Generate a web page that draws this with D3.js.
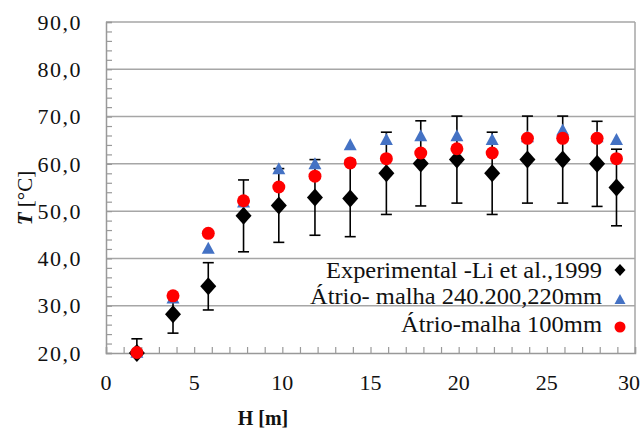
<!DOCTYPE html>
<html>
<head>
<meta charset="utf-8">
<script src="https://cdn.jsdelivr.net/npm/d3@7"></script>
<style>
  body { margin: 0; background: #fff; }
  text { font-family: "Liberation Serif", "Times New Roman", serif; fill: #111; }
</style>
</head>
<body>
<svg width="642" height="443"></svg>
<script>
// H positions [m] and temperatures [°C]
var hPos     = [1.75, 3.8, 5.8, 7.8, 9.8, 11.85, 13.85, 15.9, 17.85, 19.9, 21.9, 23.9, 25.9, 27.85, 28.95];
var expT     = [20.0, 28.2, 34.1, 49.0, 51.2, 52.9, 52.7, 58.0, 60.1, 60.9, 58.0, 60.9, 60.9, 60.0, 55.0];
var expErr   = [3.0, 4.0, 5.0, 7.6, 7.8, 8.0, 8.1, 8.7, 9.0, 9.2, 8.7, 9.2, 9.2, 9.0, 8.1];
var coarseT  = [20.0, 31.5, 42.0, 51.8, 58.8, 59.9, 63.9, 65.0, 65.8, 65.8, 65.0, 65.6, 67.0, 65.6, 65.0];
var fineT    = [20.1, 32.1, 45.3, 52.2, 55.1, 57.4, 60.2, 61.1, 62.3, 63.2, 62.3, 65.4, 65.4, 65.4, 61.1];

var xTicks = [0, 5, 10, 15, 20, 25, 30];
var yTicks = [20, 30, 40, 50, 60, 70, 80, 90];
var legendLabels = ["Experimental -Li et al.,1999", "Átrio- malha 240.200,220mm", "Átrio-malha 100mm"];

var svg = d3.select("svg");
var pL = 106, pR = 635, pT = 22, pB = 353;

var x = d3.scaleLinear().domain([0, 30]).range([pL, pR]);
var y = d3.scaleLinear().domain([20, 90]).range([pB, pT]);

var fmt = function(v) { return d3.format(".1f")(v).replace(".", ","); };

// gridlines
svg.append("g").selectAll("line")
  .data(yTicks.slice(1))
  .enter().append("line")
  .attr("x1", pL).attr("x2", pR)
  .attr("y1", function(d) { return y(d); })
  .attr("y2", function(d) { return y(d); })
  .attr("stroke", "#a6a6a6")
  .attr("stroke-width", 1.5);

// right border
svg.append("line")
  .attr("x1", pR).attr("x2", pR).attr("y1", pT).attr("y2", pB)
  .attr("stroke", "#a6a6a6").attr("stroke-width", 1.5);

// y axis, major + minor ticks pointing inward
var yAxis = d3.axisRight(y).tickValues(d3.range(20, 90.1, 2)).tickSize(6).tickFormat("");
var gy = svg.append("g").attr("transform", "translate(" + pL + ",0)").call(yAxis);
gy.select(".domain").attr("stroke", "#999").attr("stroke-width", 1.5);
gy.selectAll(".tick line").attr("stroke", "#999").attr("stroke-width", 1.2);

svg.append("g").selectAll("text")
  .data(yTicks)
  .enter().append("text")
  .attr("x", 82)
  .attr("y", function(d) { return y(d); })
  .attr("dy", "0.35em")
  .attr("text-anchor", "end")
  .style("font-size", "22px")
  .style("letter-spacing", "1.5px")
  .text(fmt);

// x axis, ticks pointing up
var xAxis = d3.axisTop(x).tickValues(d3.range(0, 30.1, 1)).tickSize(6).tickFormat("");
var gx = svg.append("g").attr("transform", "translate(0," + pB + ")").call(xAxis);
gx.select(".domain").attr("stroke", "#999").attr("stroke-width", 1.5);
gx.selectAll(".tick line").attr("stroke", "#999").attr("stroke-width", 1.2);

svg.append("g").selectAll("text")
  .data(xTicks)
  .enter().append("text")
  .attr("x", function(d) { return Math.min(x(d), 629); })
  .attr("y", 382)
  .attr("dy", "0.35em")
  .attr("text-anchor", "middle")
  .style("font-size", "22px")
  .text(function(d) { return d; });

// axis titles
svg.append("text")
  .attr("x", 263).attr("y", 418).attr("dy", "0.35em")
  .attr("text-anchor", "middle")
  .style("font-size", "20px").style("font-weight", "bold")
  .text("H [m]");

var yt = svg.append("text")
  .attr("transform", "translate(25,198) rotate(-90)")
  .attr("dy", "0.35em")
  .attr("text-anchor", "middle")
  .style("font-size", "21px");
yt.append("tspan").style("font-weight", "bold").style("font-style", "italic").text("T");
yt.append("tspan").text(" [°C]");

var idx = d3.range(hPos.length);

// experimental series with error bars
var eb = svg.append("g").attr("stroke", "#000").attr("stroke-width", 1.6);
idx.forEach(function(i) {
  var cx = x(hPos[i]);
  var y0 = Math.min(y(expT[i] - expErr[i]), pB);
  var y1 = y(expT[i] + expErr[i]);
  eb.append("line").attr("x1", cx).attr("x2", cx).attr("y1", y0).attr("y2", y1);
  eb.append("line").attr("x1", cx - 5.5).attr("x2", cx + 5.5).attr("y1", y1).attr("y2", y1);
  if (y(expT[i] - expErr[i]) < pB)
    eb.append("line").attr("x1", cx - 5.5).attr("x2", cx + 5.5).attr("y1", y0).attr("y2", y0);
});

function diamond(w, h) {
  return "M0," + (-h) + "L" + w + ",0L0," + h + "L" + (-w) + ",0Z";
}
function triangle(w, h) {
  return "M0," + (-h * 0.6) + "L" + w + "," + (h * 0.4) + "L" + (-w) + "," + (h * 0.4) + "Z";
}

svg.append("g").selectAll("path")
  .data(idx)
  .enter().append("path")
  .attr("d", diamond(8, 9))
  .attr("transform", function(i) { return "translate(" + x(hPos[i]) + "," + y(expT[i]) + ")"; })
  .attr("fill", "#000");

svg.append("g").selectAll("path")
  .data(idx)
  .enter().append("path")
  .attr("d", triangle(6.5, 12))
  .attr("transform", function(i) { return "translate(" + x(hPos[i]) + "," + y(coarseT[i]) + ")"; })
  .attr("fill", "#4472c4");

svg.append("g").selectAll("circle")
  .data(idx)
  .enter().append("circle")
  .attr("cx", function(i) { return x(hPos[i]); })
  .attr("cy", function(i) { return y(fineT[i]); })
  .attr("r", 6.5)
  .attr("fill", "#ff0000");

// legend
var legY = [270, 296, 324];
var legW = [276, 292, 201];
var lg = svg.append("g");
legendLabels.forEach(function(t, i) {
  lg.append("text")
    .attr("x", 602).attr("y", legY[i]).attr("dy", "0.35em")
    .attr("text-anchor", "end")
    .attr("textLength", legW[i])
    .attr("lengthAdjust", "spacingAndGlyphs")
    .style("font-size", "23px")
    .text(t);
});
lg.append("path").attr("d", diamond(5.5, 6)).attr("transform", "translate(620," + legY[0] + ")").attr("fill", "#000");
lg.append("path").attr("d", triangle(5.5, 10)).attr("transform", "translate(620," + (legY[1] + 4) + ")").attr("fill", "#4472c4");
lg.append("circle").attr("cx", 620).attr("cy", legY[2] + 3).attr("r", 5.5).attr("fill", "#ff0000");
</script>
</body>
</html>
